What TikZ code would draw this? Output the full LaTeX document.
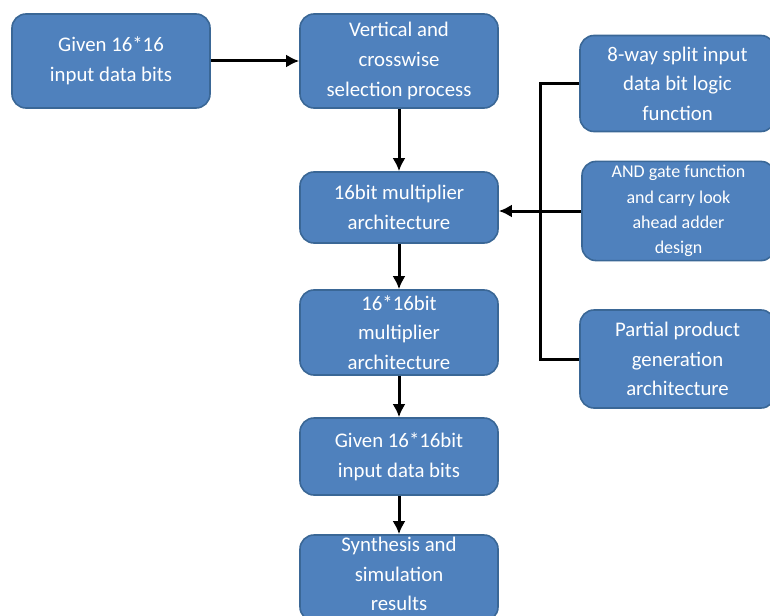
\documentclass[tikz,border=0pt]{standalone}
\usepackage{fontspec}
\setmainfont{Carlito}
\usetikzlibrary{arrows.meta}
\definecolor{boxfill}{HTML}{4F81BD}
\definecolor{boxline}{HTML}{3A6796}
\begin{document}
\begin{tikzpicture}[x=0.5pt,y=-0.5pt]
    % `block' is used for all the blue boxes.
    % `flow' is used for the arrows between them.
    \tikzstyle{block} = [draw=boxline,fill=boxfill,line width=0.8pt,rounded corners=7pt,
                         text=white,align=center,minimum width=99pt,inner sep=2pt,
                         font=\fontsize{10.4}{14.8}\selectfont]
    \tikzstyle{flow} = [line width=1.5pt,-{Latex[length=6.5pt,width=6.5pt]}]
    \tikzstyle{bus} = [line width=1.5pt]
    \useasboundingbox (0,0) rectangle (770,615);
    %
    \node[block,minimum height=47pt] (given) at (111,61) {Given 16*16\\input data bits};
    \node[block,minimum height=47pt] (select) at (399,61) {Vertical and\\crosswise\\selection process};
    \node[block,minimum height=35.5pt] (mult16) at (399,207.5) {16bit multiplier\\architecture};
    \node[block,minimum height=42.5pt] (mult1616) at (399,332.5) {16*16bit\\multiplier\\architecture};
    \node[block,minimum height=38.5pt] (given1616) at (399,456.5) {Given 16*16bit\\input data bits};
    \node[block,minimum height=43pt] (synth) at (399,578) {};
    \node[text=white,align=center,font=\fontsize{10.4}{14.8}\selectfont,inner sep=0pt]
        (synthtext) at (399,574) {Synthesis and\\simulation\\results};
    %
    \node[block,minimum width=97.5pt,minimum height=48pt] (split) at (677.5,83.5) {8-way split input\\data bit logic\\function};
    \node[block,minimum width=96.5pt,minimum height=48.5pt,
          font=\fontsize{9}{12.6}\selectfont] (andgate) at (678.5,211) {AND gate function\\and carry look\\ahead adder\\design};
    \node[block,minimum width=97.5pt,minimum height=49pt] (partial) at (677.5,359) {Partial product\\generation\\architecture};
    \coordinate (busx) at (540,0);
    %
    % Draw arrows of the main chain.
    \draw[flow] (given) -- (select);
    \draw[flow] (select) -- (mult16);
    \draw[flow] (mult16) -- (mult1616);
    \draw[flow] (mult1616) -- (given1616);
    \draw[flow] (given1616) -- (synth);
    % Draw the side bus.
    \draw[bus] (split.west) -- (split.west -| busx) -- (partial.west -| busx) -- (partial.west);
    \draw[flow] (andgate.west) -- (andgate.west -| mult16.east);
\end{tikzpicture}
\end{document}
